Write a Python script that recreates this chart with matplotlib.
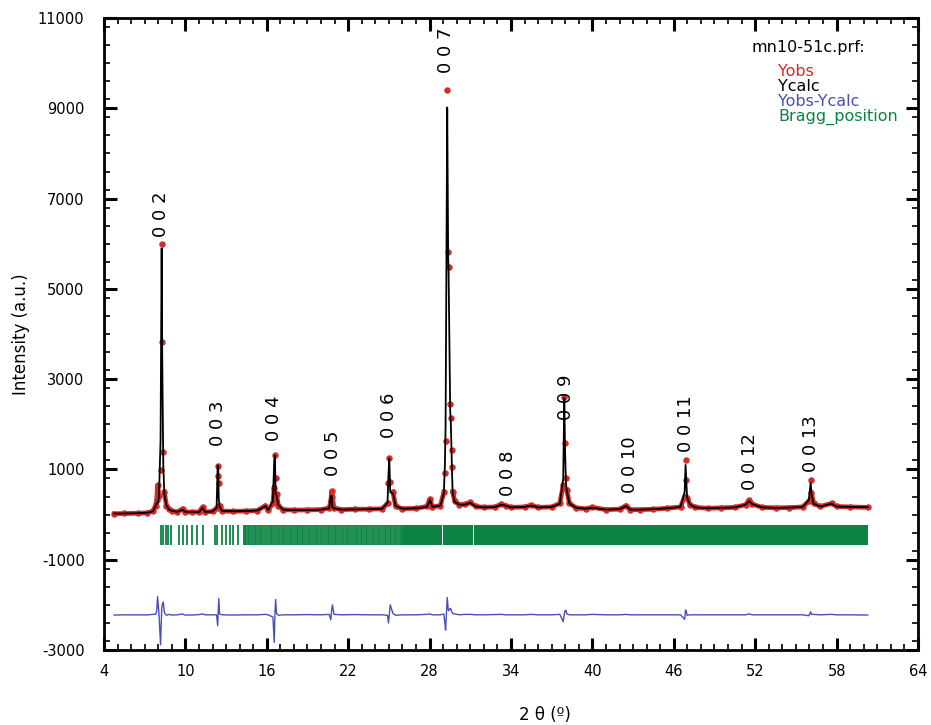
import numpy as np
from matplotlib import pyplot as plt
from matplotlib.ticker import MultipleLocator

plt.rcParams['axes.unicode_minus'] = False

two_theta = [4.75, 5.5, 6.5, 7.2, 7.6, 7.8, 7.88, 7.95, 8.05, 8.17, 8.25, 8.29, 8.37, 8.45, 8.6, 8.8, 9.0, 9.4,
             9.8, 9.95, 10.5, 11.0, 11.27, 11.45, 12.0, 12.3, 12.38, 12.42, 12.46, 12.52, 12.7, 13.5, 14.5,
             15.3, 15.9, 16.1, 16.45, 16.55, 16.6, 16.65, 16.72, 16.85, 17.2, 18.0, 19.0, 20.0, 20.6, 20.72,
             20.78, 20.84, 20.95, 21.5, 22.5, 23.5, 24.5, 24.9, 24.97, 25.03, 25.1, 25.3, 25.5, 26.0, 27.0,
             27.8, 28.03, 28.2, 28.8, 29.05, 29.13, 29.18, 29.3, 29.37, 29.4, 29.52, 29.57, 29.62, 29.65, 29.7,
             29.85, 30.2, 30.6, 31.0, 31.4, 32.0, 32.8, 33.3, 33.6, 34.0, 35.0, 35.5, 36.0, 37.0, 37.6, 37.85,
             37.93, 37.98, 38.05, 38.12, 38.3, 38.8, 39.5, 40.0, 41.0, 42.0, 42.48, 42.8, 43.5, 44.5, 45.5,
             46.5, 46.8, 46.87, 46.93, 46.98, 47.2, 47.6, 48.5, 49.5, 50.5, 51.3, 51.54, 51.8, 52.5, 53.5,
             54.5, 55.5, 55.95, 56.09, 56.15, 56.3, 56.8, 57.63, 58.0, 59.0, 60.3]
y_obs = [20, 25, 30, 40, 80, 200, 322, 654, 420, 987, 6000, 3822, 1386, 500, 200, 120, 80, 60,
         130, 60, 55, 60, 170, 60, 70, 150, 850, 1075, 700, 200, 80, 70, 80,
         90, 200, 100, 250, 600, 1320, 800, 450, 200, 110, 100, 105, 110, 150, 300,
         521, 380, 150, 110, 120, 120, 130, 250, 700, 1250, 720, 500, 180, 130, 140,
         180, 350, 170, 200, 500, 913, 1640, 9405, 5823, 5490, 2440, 2130, 1430, 1060, 510,
         300, 220, 230, 270, 180, 160, 170, 230, 200, 160, 170, 210, 160, 170, 250, 650,
         2597, 1590, 800, 540, 250, 150, 130, 160, 110, 120, 200, 110, 110, 120, 140,
         170, 400, 1208, 770, 370, 220, 160, 140, 150, 160, 220, 320, 230, 160, 150,
         155, 170, 300, 766, 480, 250, 180, 250, 180, 170, 160]
y_calc = [25, 25, 32, 42, 70, 190, 250, 250, 380, 1650, 5900, 3600, 1100, 450, 210, 110, 85, 60,
          110, 65, 60, 55, 150, 60, 70, 150, 1090, 1010, 340, 180, 80, 75, 80,
          90, 190, 100, 300, 1210, 1310, 460, 420, 210, 110, 100, 100, 110, 140, 410,
          420, 160, 140, 110, 115, 120, 130, 260, 880, 1240, 500, 470, 190, 130, 140,
          170, 330, 170, 200, 480, 1100, 1980, 9020, 5700, 5400, 2300, 2000, 1350, 1000, 480,
          280, 220, 220, 260, 180, 160, 165, 220, 200, 160, 170, 200, 160, 170, 240, 800,
          2580, 1500, 700, 520, 250, 150, 130, 150, 110, 120, 190, 110, 110, 120, 140,
          170, 500, 1100, 700, 380, 220, 160, 140, 150, 160, 220, 300, 230, 160, 150,
          155, 170, 320, 700, 470, 240, 180, 240, 180, 170, 165]
diff_offset = -2220

# Bragg reflections
bragg_pos = [8.18, 8.37, 8.55, 8.74, 8.92, 9.53, 9.85, 10.14, 10.46, 10.83, 11.32, 12.18, 12.35, 12.67,
             12.99, 13.29, 13.53, 13.9, 14.30, 14.38, 14.45, 14.60, 14.72, 14.85, 15.00, 15.12, 15.20,
             15.38, 15.50, 15.58, 15.75, 15.90, 16.02, 16.15, 16.30, 16.42, 16.50, 16.68, 16.80, 16.92,
             17.05, 17.18, 17.30, 17.45, 17.55, 17.70, 17.82, 17.95, 18.05, 18.20, 18.32, 18.45, 18.58,
             18.70, 18.80, 18.95, 19.08, 19.20, 19.35, 19.45, 19.60, 19.72, 19.85, 19.98, 20.10, 20.22,
             20.35, 20.50, 20.62, 20.75, 20.85, 21.00, 21.12, 21.25, 21.40, 21.52, 21.65, 21.78, 21.90,
             22.02, 22.15, 22.28, 22.40, 22.55, 22.65, 22.80, 22.92, 23.05, 23.18, 23.30, 23.42, 23.55,
             23.68, 23.80, 23.92, 24.05, 24.18, 24.30, 24.42, 24.55, 24.68, 24.80, 24.92, 25.05, 25.18,
             25.30, 25.42, 25.55, 25.68, 25.80, 25.92]
# ranges where the reflections overlap into a solid band
bragg_bands = [(26.0, 28.9), (29.0, 31.2), (31.3, 60.3)]

# (0 0 l) labels
hkl_labels = ['0 0 2', '0 0 3', '0 0 4', '0 0 5', '0 0 6', '0 0 7', '0 0 8',
              '0 0 9', '0 0 10', '0 0 11', '0 0 12', '0 0 13']
hkl_x = [8.2, 12.4, 16.5, 20.85, 25.0, 29.2, 33.8, 38.05, 42.75, 46.9, 51.6, 56.15]
hkl_y = [6150, 1525, 1630, 855, 1700, 9780, 410, 2100, 470, 1385, 545, 943]

red = '#d42a2a'
blue = '#4a4fb5'
green = '#0b8443'

x = np.array(two_theta)
obs = np.array(y_obs)
calc = np.array(y_calc)
# dense observed points merge into a band along the background only
obs_band = np.where(obs < 700, obs, np.nan)

fig = plt.figure(figsize=(9.31, 7.25), dpi=100)
ax = fig.add_axes([0.1117, 0.1034, 0.8743, 0.8717])

ax.plot(x, obs_band, color=red, lw=3.4, zorder=2)
ax.plot(x, obs, 'o', color=red, ms=3.8, mec=red, mew=0.8, zorder=2)
ax.plot(x, calc, color='black', lw=1.3, zorder=3)
ax.plot(x, obs - calc + diff_offset, color=blue, lw=1, zorder=3)

ax.vlines(bragg_pos, -680, -230, color=green, lw=1.3)
for a, b in bragg_bands:
    ax.fill_between([a, b], -680, -230, color=green, lw=0)

for lab, lx, ly in zip(hkl_labels, hkl_x, hkl_y):
    ax.text(lx, ly, lab, rotation=90, ha='center', va='bottom', fontsize=13)

ax.text(51.76, 10357, 'mn10-51c.prf:', fontsize=11.5, va='center')
for i, (t, c) in enumerate([('Yobs', red), ('Ycalc', 'black'), ('Yobs-Ycalc', blue), ('Bragg_position', green)]):
    ax.text(53.68, 9826 - i * 335, t, color=c, fontsize=11.5, va='center')

ax.set_xlim(4, 64)
ax.set_ylim(-3000, 11000)
ax.set_xticks(range(4, 65, 6))
ax.set_yticks(range(-3000, 11001, 2000))
ax.xaxis.set_minor_locator(MultipleLocator(1))
ax.yaxis.set_minor_locator(MultipleLocator(400))
ax.tick_params(which='both', direction='in', top=True, right=True)
ax.tick_params(which='major', length=9, width=2.2, labelsize=10.5)
ax.tick_params(axis='x', which='major', pad=10)
ax.tick_params(axis='y', which='major', pad=14)
ax.tick_params(which='minor', length=4.5, width=1.2)
for s in ax.spines.values():
    s.set_linewidth(2)

ax.set_ylabel('Intensity (a.u.)', fontsize=12, labelpad=6)
fig.text(545 / 931, 1 - 715 / 725, '2 θ (º)', fontsize=12, ha='center', va='center')

fig.savefig('out.png', dpi=100)
